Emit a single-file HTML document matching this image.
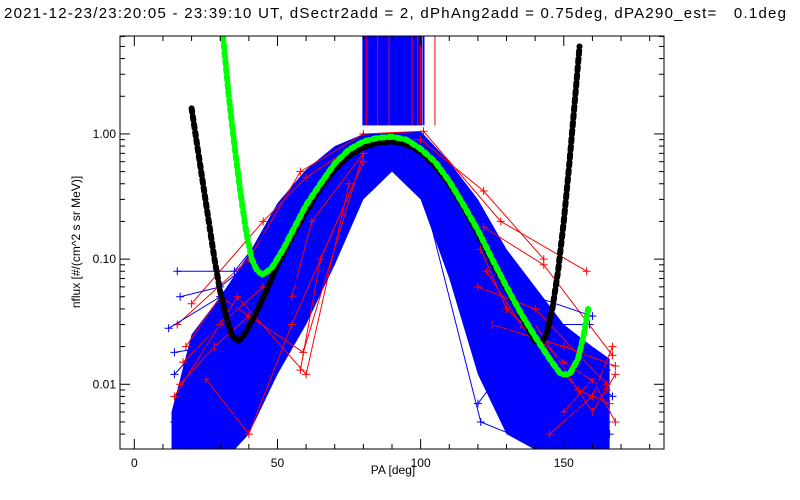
<!DOCTYPE html>
<html><head><meta charset="utf-8"><style>
body{margin:0;background:#fff;}
svg{display:block;font-family:"Liberation Sans",sans-serif;}
</style></head><body>
<svg id="chart" width="800" height="500" viewBox="0 0 800 500">
<rect width="800" height="500" fill="#fff"/>
<text x="4" y="18" font-size="15" fill="#000" textLength="782" lengthAdjust="spacing" xml:space="preserve">2021-12-23/23:20:05 - 23:39:10 UT, dSectr2add = 2, dPhAng2add = 0.75deg, dPA290_est=   0.1deg</text>
<g id="plot"></g>
<g id="axes"></g>
<text x="393" y="474" font-size="12" text-anchor="middle">PA [deg]</text>
<text transform="translate(80,242) rotate(-90)" font-size="12" text-anchor="middle">nflux [#/(cm^2 s sr MeV)]</text>
</svg>
<script>
// ---- data ----
const xTicks=[0,50,100,150];
const yTicks=[0.01,0.1,1];
const yTickLabels=["0.01","0.10","1.00"];
const greenPA=[31,33,35,37,39,41,43,45,48,52,56,60,65,70,75,80,85,90,95,100,105,110,115,120,125,130,135,140,145,149,152,155,157,158.5];
const greenFlux=[6,2,0.8,0.35,0.17,0.1,0.08,0.075,0.085,0.12,0.18,0.27,0.4,0.58,0.75,0.87,0.93,0.95,0.9,0.76,0.6,0.42,0.27,0.17,0.1,0.06,0.037,0.024,0.016,0.012,0.012,0.016,0.025,0.04];
const blackPA=[20,22,24,26,28,30,32,34,36,38,42,46,50,55,60,65,70,75,80,85,90,95,100,105,110,115,120,125,130,135,140,142,144,146,148,150,152,154,155.5];
const blackFlux=[1.6,0.8,0.4,0.2,0.1,0.055,0.035,0.025,0.022,0.024,0.035,0.055,0.09,0.15,0.24,0.37,0.52,0.67,0.78,0.85,0.87,0.83,0.72,0.56,0.4,0.26,0.16,0.095,0.058,0.036,0.022,0.021,0.025,0.04,0.08,0.2,0.6,2,5];
const bandUpperPA=[13,20,30,40,50,60,70,80,90,100,110,120,130,140,150,160,166];
const bandUpperFlux=[0.006,0.025,0.05,0.11,0.28,0.52,0.8,1.0,1.02,1.05,0.6,0.3,0.12,0.06,0.03,0.02,0.016];
const bandLowerPA=[166,155,145,140,130,120,110,100,90,80,70,60,50,40,35,13];
const bandLowerFlux=[0.003,0.003,0.003,0.003,0.004,0.012,0.07,0.3,0.5,0.3,0.09,0.03,0.012,0.004,0.003,0.003];
const redLines=[
 [[20,0.044],[45,0.2],[60,0.45],[80,0.9],[100,0.9],[122,0.35],[143,0.1]],
 [[15,0.03],[40,0.1],[58,0.5],[80,1.0],[101,1.05],[128,0.2],[158,0.08]],
 [[18,0.02],[30,0.05],[59,0.018],[80,0.7]],
 [[14,0.008],[36,0.05],[60,0.012],[75,0.4]],
 [[122,0.18],[143,0.09],[167,0.017]],
 [[125,0.03],[150,0.02],[168,0.014]],
 [[120,0.06],[140,0.04],[165,0.01]],
 [[25,0.011],[40,0.004],[55,0.03],[80,0.6]],
 [[140,0.03],[160,0.006],[168,0.012]],
 [[145,0.004],[160,0.008],[167,0.02]],
 [[58,0.013],[65,0.1],[80,0.6]],
 [[55,0.05],[62,0.2],[80,0.7]],
 [[121,0.12],[130,0.04],[150,0.015],[165,0.009]],
 [[123,0.08],[135,0.03],[155,0.009],[166,0.007]],
 [[17,0.015],[30,0.03],[45,0.06]],
 [[16,0.01],[28,0.02],[40,0.035]],
 [[150,0.006],[160,0.011],[168,0.005]]
];
const blueLines=[
 [[15,0.08],[35,0.08],[55,0.3],[80,0.95]],
 [[12,0.028],[30,0.05],[50,0.2],[80,0.9]],
 [[14,0.012],[35,0.04],[60,0.3]],
 [[120,0.03],[140,0.03],[159,0.03]],
 [[140,0.05],[160,0.035]],
 [[120,0.007],[125,0.01],[155,0.015]],
 [[100,0.5],[120,0.07],[140,0.012]],
 [[100,0.4],[121,0.005],[145,0.003]],
 [[14,0.005],[25,0.004],[34,0.005],[60,0.1]],
 [[16,0.007],[30,0.015],[45,0.04]],
 [[142,0.02],[155,0.006],[165,0.006]],
 [[145,0.012],[160,0.012],[166,0.004]],
 [[16,0.05],[30,0.06],[42,0.1]],
 [[14,0.018],[26,0.02],[38,0.02]],
 [[150,0.01],[162,0.01],[167,0.008]],
 [[148,0.016],[158,0.016],[165,0.013]],
 [[143,0.007],[155,0.005],[165,0.005]]
];
const stripePA=[80,81,82,83.5,85,86,89,92,95,97,98,99,100,101,105];
const stripeColor=["b","r","b","b","r","b","r","b","b","r","b","r","r","b","r"];
// ---- scales ----
const L=120,R=664,T=36,B=449;
const xMin=-5,xMax=185,logMin=Math.log10(0.00304),logMax=Math.log10(6.06);
const X=v=>L+(v-xMin)/(xMax-xMin)*(R-L);
const Y=v=>B-(Math.log10(v)-logMin)/(logMax-logMin)*(B-T);
const NS="http://www.w3.org/2000/svg";
const plot=document.getElementById('plot'),axes=document.getElementById('axes');
function mk(tag,attrs,parent){const e=document.createElementNS(NS,tag);for(const k in attrs)e.setAttribute(k,attrs[k]);parent.appendChild(e);return e;}
const clip=mk('clipPath',{id:'pc'},document.getElementById('chart'));
mk('rect',{x:L,y:T,width:R-L,height:B-T},clip);
plot.setAttribute('clip-path','url(#pc)');
// stripes block
const blk=mk('rect',{x:X(80),y:T,width:X(100.5)-X(80),height:Y(1.17)-T,fill:"#00f"},plot);


stripePA.forEach((p,i)=>{
 const s=mk('line',{x1:X(p),x2:X(p),y1:T,y2:Y(1.17),stroke:stripeColor[i]=="r"?"#f00":"#00f","stroke-width":stripeColor[i]=="r"?1:2},plot);
 
 
});
// band
let pts=bandUpperPA.map((p,i)=>X(p)+","+Y(bandUpperFlux[i])).concat(bandLowerPA.map((p,i)=>X(p)+","+Y(bandLowerFlux[i])));
const band=mk('polygon',{points:pts.join(" "),fill:"#00f"},plot);


function cross(x,y,c){mk('path',{d:`M${x-4},${y}h8M${x},${y-4}v8`,stroke:c,"stroke-width":1},plot);}
function drawLines(arr,c,name){arr.forEach(ln=>{
 const pl=mk('polyline',{points:ln.map(q=>X(q[0])+","+Y(q[1])).join(" "),fill:"none",stroke:c,"stroke-width":1},plot);
 
 
 ln.forEach(q=>cross(X(q[0]),Y(q[1]),c));
});}
drawLines(redLines,"#f00","red-trace");
drawLines(blueLines,"#00f","blue-trace");
function dots(pa,fl,c,name){
 const g=mk('g',{},plot);
 
 
 const path=pa.map((p,i)=>(i?"L":"M")+X(p)+","+Y(fl[i])).join("");
 mk('path',{d:path,fill:"none",stroke:c,"stroke-width":6,"stroke-dasharray":"4 4","stroke-linecap":"round"},g);
}
dots(blackPA,blackFlux,"#000","black-fit-curve");
dots(greenPA,greenFlux,"#0f0","green-fit-curve");
// axes
mk('rect',{x:L,y:T,width:R-L,height:B-T,fill:"none",stroke:"#000","stroke-width":1},axes);
xTicks.forEach(t=>{
 mk('line',{x1:X(t),x2:X(t),y1:B,y2:B-10,stroke:"#000"},axes);
 mk('line',{x1:X(t),x2:X(t),y1:T,y2:T+10,stroke:"#000"},axes);
 const tx=mk('text',{x:X(t),y:B+18,"font-size":12,"text-anchor":"middle"},axes);tx.textContent=t;
 
 
});
for(let t=10;t<=180;t+=10){if(t%50==0)continue;
 mk('line',{x1:X(t),x2:X(t),y1:B,y2:B-5,stroke:"#000"},axes);
 mk('line',{x1:X(t),x2:X(t),y1:T,y2:T+5,stroke:"#000"},axes);}
yTicks.forEach((t,i)=>{
 mk('line',{x1:L,x2:L+10,y1:Y(t),y2:Y(t),stroke:"#000"},axes);
 mk('line',{x1:R,x2:R-10,y1:Y(t),y2:Y(t),stroke:"#000"},axes);
 const tx=mk('text',{x:L-4,y:Y(t)+4,"font-size":12,"text-anchor":"end"},axes);tx.textContent=yTickLabels[i];
 
 
});
[0.001,0.01,0.1,1].forEach(d=>{for(let m=2;m<=9;m++){const v=d*m;if(v<0.00304||v>6.06)continue;
 mk('line',{x1:L,x2:L+5,y1:Y(v),y2:Y(v),stroke:"#000"},axes);
 mk('line',{x1:R,x2:R-5,y1:Y(v),y2:Y(v),stroke:"#000"},axes);}});
</script>
</body></html>
